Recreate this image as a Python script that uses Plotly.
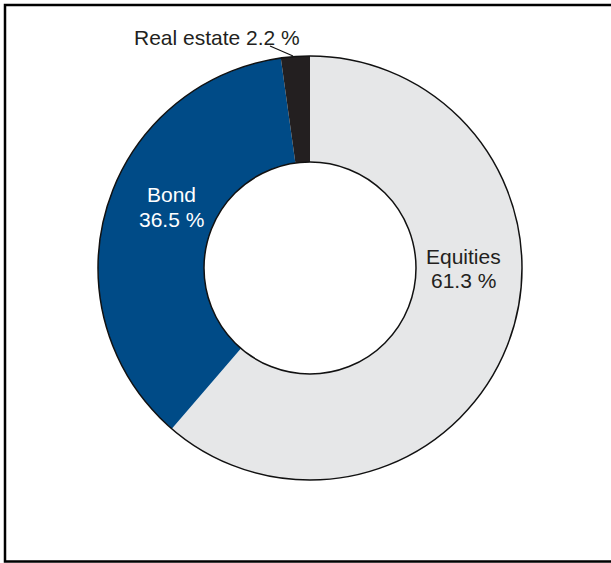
import plotly.graph_objects as go

# Asset allocation
categories = ["Equities", "Bond", "Real estate"]
shares = [61.3, 36.5, 2.2]
colors = ["#e6e7e8", "#004b87", "#231f20"]

W, H = 611, 563
CX, CY, R = 310, 268, 212  # pie centre and outer radius, in pixels
HOLE = 0.5


def px(x):
    return x / W


def py(y):
    return (H - y) / H


fig = go.Figure(
    go.Pie(
        labels=categories,
        values=shares,
        sort=False,
        direction="clockwise",
        rotation=0,
        hole=HOLE,
        marker=dict(colors=colors, line=dict(width=0)),
        textinfo="none",
        hoverinfo="label+percent",
        showlegend=False,
        domain=dict(x=[px(CX - R), px(CX + R)], y=[py(CY + R), py(CY - R)]),
    )
)

shapes = [
    # outer and inner outlines of the ring
    dict(type="circle", xref="paper", yref="paper",
         x0=px(CX - R), x1=px(CX + R), y0=py(CY + R), y1=py(CY - R),
         line=dict(color="#111111", width=1.5)),
    dict(type="circle", xref="paper", yref="paper",
         x0=px(CX - R * HOLE), x1=px(CX + R * HOLE),
         y0=py(CY + R * HOLE), y1=py(CY - R * HOLE),
         line=dict(color="#111111", width=1.5)),
    # leader line for the small slice
    dict(type="line", xref="paper", yref="paper",
         x0=px(270), y0=py(46), x1=px(293), y1=py(56),
         line=dict(color="#111111", width=1.2)),
    # frame
    dict(type="rect", xref="paper", yref="paper",
         x0=px(5), x1=px(625), y0=py(561.5), y1=py(5),
         line=dict(color="black", width=2.5)),
]

font = "Liberation Sans, Arial, sans-serif"
# (x, first-line y, second-line y, colour) for each label
label_pos = [(463, 256, 280, "#231f20"), (171.5, 195, 219.5, "white"), (217, 37, None, "#231f20")]
annotations = []


def add_text(text, x, y, c):
    annotations.append(dict(
        x=px(x), y=py(y), xref="paper", yref="paper", text=text,
        showarrow=False, xanchor="center", yanchor="middle",
        font=dict(family=font, size=21, color=c),
    ))


for name, val, (x, y1, y2, c) in zip(categories, shares, label_pos):
    if y2 is None:
        add_text(f"{name} {val} %", x, y1, c)
    else:
        add_text(name, x, y1, c)
        add_text(f"{val} %", x, y2, c)

fig.update_layout(
    width=W, height=H,
    margin=dict(l=0, r=0, t=0, b=0),
    paper_bgcolor="white",
    plot_bgcolor="white",
    shapes=shapes,
    annotations=annotations,
)

fig.write_html("out.html")
